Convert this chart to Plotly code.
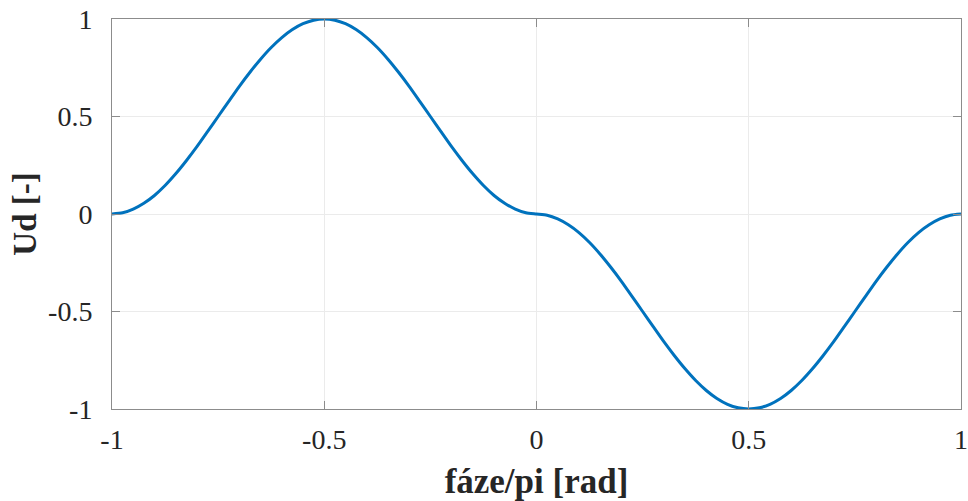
import plotly.graph_objects as go

# Phase (fraction of pi) and Ud values
phase = [round(-1 + 0.025 * i, 3) for i in range(81)]
ud_neg_phase = [0.000, 0.006, 0.025, 0.055, 0.095, 0.146, 0.206, 0.273, 0.345, 0.422,
                0.500, 0.578, 0.655, 0.727, 0.794, 0.854, 0.905, 0.946, 0.976, 0.994,
                1.000, 0.994, 0.976, 0.946, 0.905, 0.854, 0.794, 0.727, 0.655, 0.578,
                0.500, 0.422, 0.345, 0.273, 0.206, 0.146, 0.095, 0.055, 0.025, 0.006]
ud_pos_phase = [0.000, -0.006, -0.025, -0.055, -0.095, -0.146, -0.206, -0.273, -0.345, -0.422,
                -0.500, -0.578, -0.655, -0.727, -0.794, -0.854, -0.905, -0.946, -0.976, -0.994,
                -1.000, -0.994, -0.976, -0.946, -0.905, -0.854, -0.794, -0.727, -0.655, -0.578,
                -0.500, -0.422, -0.345, -0.273, -0.206, -0.146, -0.095, -0.055, -0.025, -0.006,
                0.000]
ud = ud_neg_phase + ud_pos_phase

x_ticks = [-1, -0.5, 0, 0.5, 1]
x_labels = ["-1", "-0.5", "0", "0.5", "1"]
y_ticks = [-1, -0.5, 0, 0.5, 1]
y_labels = ["-1", "-0.5", "0", "0.5", "1"]

fig = go.Figure()
fig.add_trace(go.Scatter(
    x=phase, y=ud, mode="lines",
    line=dict(color="#0072BD", width=3, shape="spline", smoothing=0.6),
    showlegend=False, hoverinfo="x+y"))

axis_common = dict(
    showline=True, linecolor="#8c8c8c", linewidth=1, mirror="ticks",
    ticks="inside", ticklen=8, tickcolor="#8c8c8c", tickwidth=1,
    showgrid=True, gridcolor="#ebebeb", gridwidth=1, zeroline=False,
    automargin=False, ticklabeloverflow="allow",
    tickfont=dict(family="Liberation Serif", size=28, color="#262626"),
)

fig.update_layout(
    width=968, height=501,
    margin=dict(l=112, r=7, t=19, b=92),
    paper_bgcolor="white", plot_bgcolor="white",
    xaxis=dict(range=[-1, 1], tickvals=x_ticks, ticktext=x_labels,
               ticklabelstandoff=5,
               title=dict(text="<b>fáze/pi [rad]</b>", standoff=25,
                          font=dict(family="Liberation Serif", size=35, color="#262626")),
               **axis_common),
    yaxis=dict(range=[-1, 1], tickvals=y_ticks, ticktext=y_labels,
               ticklabelstandoff=13,
               title=dict(text="<b>Ud [-]</b>", standoff=1,
                          font=dict(family="Liberation Serif", size=33, color="#262626")),
               **axis_common),
)

fig.write_html(
    "out.html",
    config={"displayModeBar": False},
    post_script="document.body.style.margin='0';document.body.style.overflow='hidden';",
)
